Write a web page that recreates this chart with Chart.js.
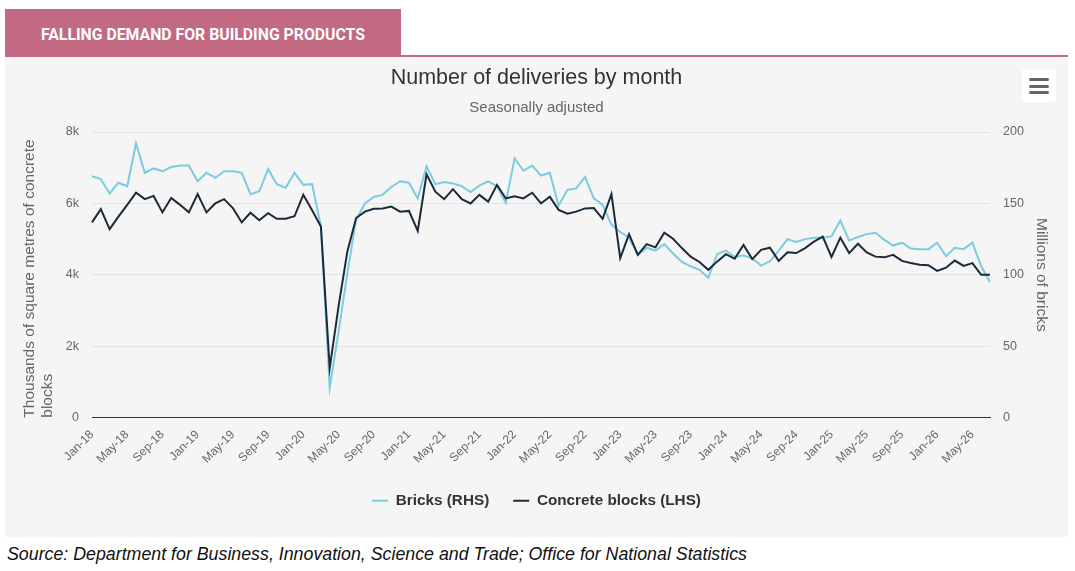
<!DOCTYPE html>
<html>
<head>
<meta charset="utf-8">
<title>Falling demand for building products</title>
<script src="https://cdn.jsdelivr.net/npm/chart.js@4.4.1/dist/chart.umd.min.js"></script>
<style>
  body { margin: 0; background: #fff; width: 1075px; height: 571px; position: relative; overflow: hidden; font-family: "Liberation Sans", Arial, sans-serif; }
  #banner { position: absolute; left: 5px; top: 9px; width: 396px; height: 48px; background: #c26a82; }
  #banner span { position: absolute; left: 36px; top: 16px; line-height: 20px; font-family: Roboto, sans-serif; font-weight: 700; font-size: 16px; color: #fff; white-space: nowrap; transform-origin: left center; }
  #rule { position: absolute; left: 401px; top: 55px; width: 667px; height: 2px; background: #c26a82; }
  #box { position: absolute; left: 5px; top: 57px; width: 1063px; height: 480px; background: #f5f5f5; }
  #menu { position: absolute; left: 1022px; top: 69px; width: 34px; height: 33px; background: #fff; border-radius: 3px; }
  #menu i { position: absolute; left: 7px; width: 20px; height: 3px; background: #666; border-radius: 2px; }
  #source { position: absolute; left: 7px; top: 543px; font-style: italic; font-size: 17.8px; line-height: 22px; color: #111; white-space: nowrap; }
</style>
</head>
<body>
<div id="banner"><span id="bannerText">FALLING DEMAND FOR BUILDING PRODUCTS</span></div>
<div id="rule"></div>
<div id="box"><canvas id="deliveriesChart"></canvas></div>
<div id="menu"><i style="top:9px"></i><i style="top:15.5px"></i><i style="top:22px"></i></div>
<div id="source">Source: Department for Business, Innovation, Science and Trade; Office for National Statistics</div>

<script>
// Datos: entregas mensuales desestacionalizadas, ene-2018 a jul-2026
const monthNames = ['Jan', 'Feb', 'Mar', 'Apr', 'May', 'Jun', 'Jul', 'Aug', 'Sep', 'Oct', 'Nov', 'Dec'];
const firstYear = 18;
const monthCount = 103;

// Millones de ladrillos (eje derecho)
const bricks = [
  169, 167, 157, 164.5, 162, 192, 171.5, 174.5, 172.5, 175.5, 176.5, 176.5,
  165.5, 171.5, 168, 172.5, 172.5, 171.5, 156.5, 158.5, 174, 163.5, 161, 171.5,
  163, 163.5, 134, 21, 60, 101, 138.5, 150, 154.5, 156, 161.5, 165.5,
  164.5, 153.5, 176, 163.5, 165, 164, 162, 158, 162.5, 165.5, 162, 150.5,
  181.5, 173, 176.5, 169.5, 171.5, 148.5, 159.5, 160.5, 168.5, 153.5, 149, 135,
  130, 126, 114, 119, 117, 121.5, 115, 109, 106, 103.5, 98, 114.5,
  117, 112.5, 113.5, 111.5, 106.5, 109.5, 117, 125, 123, 125, 126, 126,
  127, 138, 124, 126.5, 128.5, 129.5, 124.5, 120.5, 122.5, 118.5, 118, 118,
  122.5, 113, 119, 118, 122.5, 106, 95
];

// Miles de metros cuadrados de bloques de hormigón (eje izquierdo)
const concrete = [
  5470, 5840, 5280, 5630, 5960, 6300, 6120, 6210, 5750, 6150, 5960, 5750,
  6260, 5750, 6000, 6120, 5870, 5470, 5740, 5530, 5725, 5570, 5570, 5640,
  6240, 5810, 5350, 1390, 3110, 4650, 5590, 5770, 5850, 5860, 5910, 5770,
  5790, 5230, 6820, 6330, 6120, 6400, 6120, 6000, 6240, 6050, 6520, 6140,
  6200, 6140, 6300, 6000, 6190, 5820, 5710, 5770, 5860, 5870, 5570, 6260,
  4470, 5140, 4560, 4860, 4770, 5180, 5010, 4750, 4510, 4360, 4140, 4370,
  4580, 4450, 4840, 4440, 4700, 4760, 4390, 4630, 4610, 4750, 4930, 5070,
  4500, 5040, 4610, 4870, 4630, 4510, 4490, 4560, 4390, 4330, 4280, 4270,
  4110, 4200, 4400, 4250, 4330, 4000, 4000
];

const leftTicks = [0, 2000, 4000, 6000, 8000];
const leftTickLabels = ['0', '2k', '4k', '6k', '8k'];
const rightTicks = [0, 50, 100, 150, 200];

const categories = [];
for (let i = 0; i < monthCount; i++) {
    categories.push(monthNames[i % 12] + '-' + (firstYear + Math.floor(i / 12)));
}

// Ajustar el ancho del texto del encabezado
const bannerText = document.getElementById('bannerText');
bannerText.style.transform = 'scaleX(' + (324 / bannerText.offsetWidth) + ')';

Chart.defaults.font.family = '"Liberation Sans", Arial, sans-serif';
Chart.defaults.color = '#666';

const ctx = document.getElementById('deliveriesChart').getContext('2d');
const deliveriesChart = new Chart(ctx, {
    type: 'line',
    data: {
        labels: categories,
        datasets: [{
            label: 'Bricks (RHS)',
            data: bricks,
            yAxisID: 'yRight',
            borderColor: '#7ccbe0',
            backgroundColor: '#7ccbe0',
            borderWidth: 2,
            pointRadius: 0,
            pointHoverRadius: 3,
            tension: 0,
            order: 1
        }, {
            label: 'Concrete blocks (LHS)',
            data: concrete,
            yAxisID: 'yLeft',
            borderColor: '#1b2a38',
            backgroundColor: '#1b2a38',
            borderWidth: 2,
            pointRadius: 0,
            pointHoverRadius: 3,
            tension: 0,
            order: 0
        }]
    },
    options: {
        responsive: true,
        maintainAspectRatio: false,
        animation: false,
        layout: {
            padding: { left: 0, right: 0, top: 0, bottom: 18.5 }
        },
        interaction: { mode: 'index', intersect: false },
        plugins: {
            title: {
                display: true,
                text: 'Number of deliveries by month',
                color: '#333',
                font: { size: 21.5, weight: 'normal' },
                padding: { top: 8.1, bottom: 0 }
            },
            subtitle: {
                display: true,
                text: 'Seasonally adjusted',
                color: '#666',
                font: { size: 15 },
                padding: { top: 8.1, bottom: 15 }
            },
            legend: {
                position: 'bottom',
                labels: {
                    usePointStyle: true,
                    pointStyle: 'line',
                    pointStyleWidth: 16,
                    color: '#333',
                    font: { size: 15.3, weight: 'bold' },
                    padding: 24,
                    sort: (a, b) => a.datasetIndex - b.datasetIndex
                }
            },
            tooltip: {
                backgroundColor: 'rgba(255,255,255,0.9)',
                titleColor: '#333',
                bodyColor: '#333',
                borderColor: '#999',
                borderWidth: 1
            }
        },
        scales: {
            x: {
                grid: { display: false, drawTicks: false },
                border: { display: true, color: '#333', width: 1 },
                ticks: {
                    autoSkip: false,
                    maxRotation: 45,
                    minRotation: 45,
                    padding: 10,
                    color: '#666',
                    font: { size: 12 },
                    callback: function(value, index) {
                        return index % 4 === 0 ? categories[index] : '';
                    }
                },
                afterFit: function(scale) { scale.height = 51.5; }
            },
            yLeft: {
                position: 'left',
                min: 0,
                max: 8000,
                afterBuildTicks: function(scale) {
                    scale.ticks = leftTicks.map(v => ({ value: v }));
                },
                grid: {
                    drawTicks: false,
                    lineWidth: 1,
                    color: c => c.tick && c.tick.value === 0 ? 'rgba(0,0,0,0)' : '#e3e3e3'
                },
                border: { display: false },
                ticks: {
                    padding: 13,
                    color: '#666',
                    font: { size: 12.5 },
                    callback: function(value) {
                        return leftTickLabels[leftTicks.indexOf(value)];
                    }
                },
                title: {
                    display: true,
                    text: ['Thousands of square metres of concrete', 'blocks'],
                    align: 'start',
                    color: '#666',
                    font: { size: 15.5, lineHeight: 1.16 },
                    padding: { top: 16, bottom: 0 }
                },
                afterFit: function(scale) { scale.width = 87; }
            },
            yRight: {
                position: 'right',
                min: 0,
                max: 200,
                afterBuildTicks: function(scale) {
                    scale.ticks = rightTicks.map(v => ({ value: v }));
                },
                grid: { display: false, drawTicks: false },
                border: { display: false },
                ticks: {
                    padding: 13,
                    color: '#666',
                    font: { size: 12.5 }
                },
                title: {
                    display: true,
                    text: 'Millions of bricks',
                    color: '#666',
                    font: { size: 15.5, lineHeight: 1.16 },
                    padding: { top: 17.3, bottom: 0 }
                },
                afterFit: function(scale) { scale.width = 78; }
            }
        }
    }
});
</script>
</body>
</html>
